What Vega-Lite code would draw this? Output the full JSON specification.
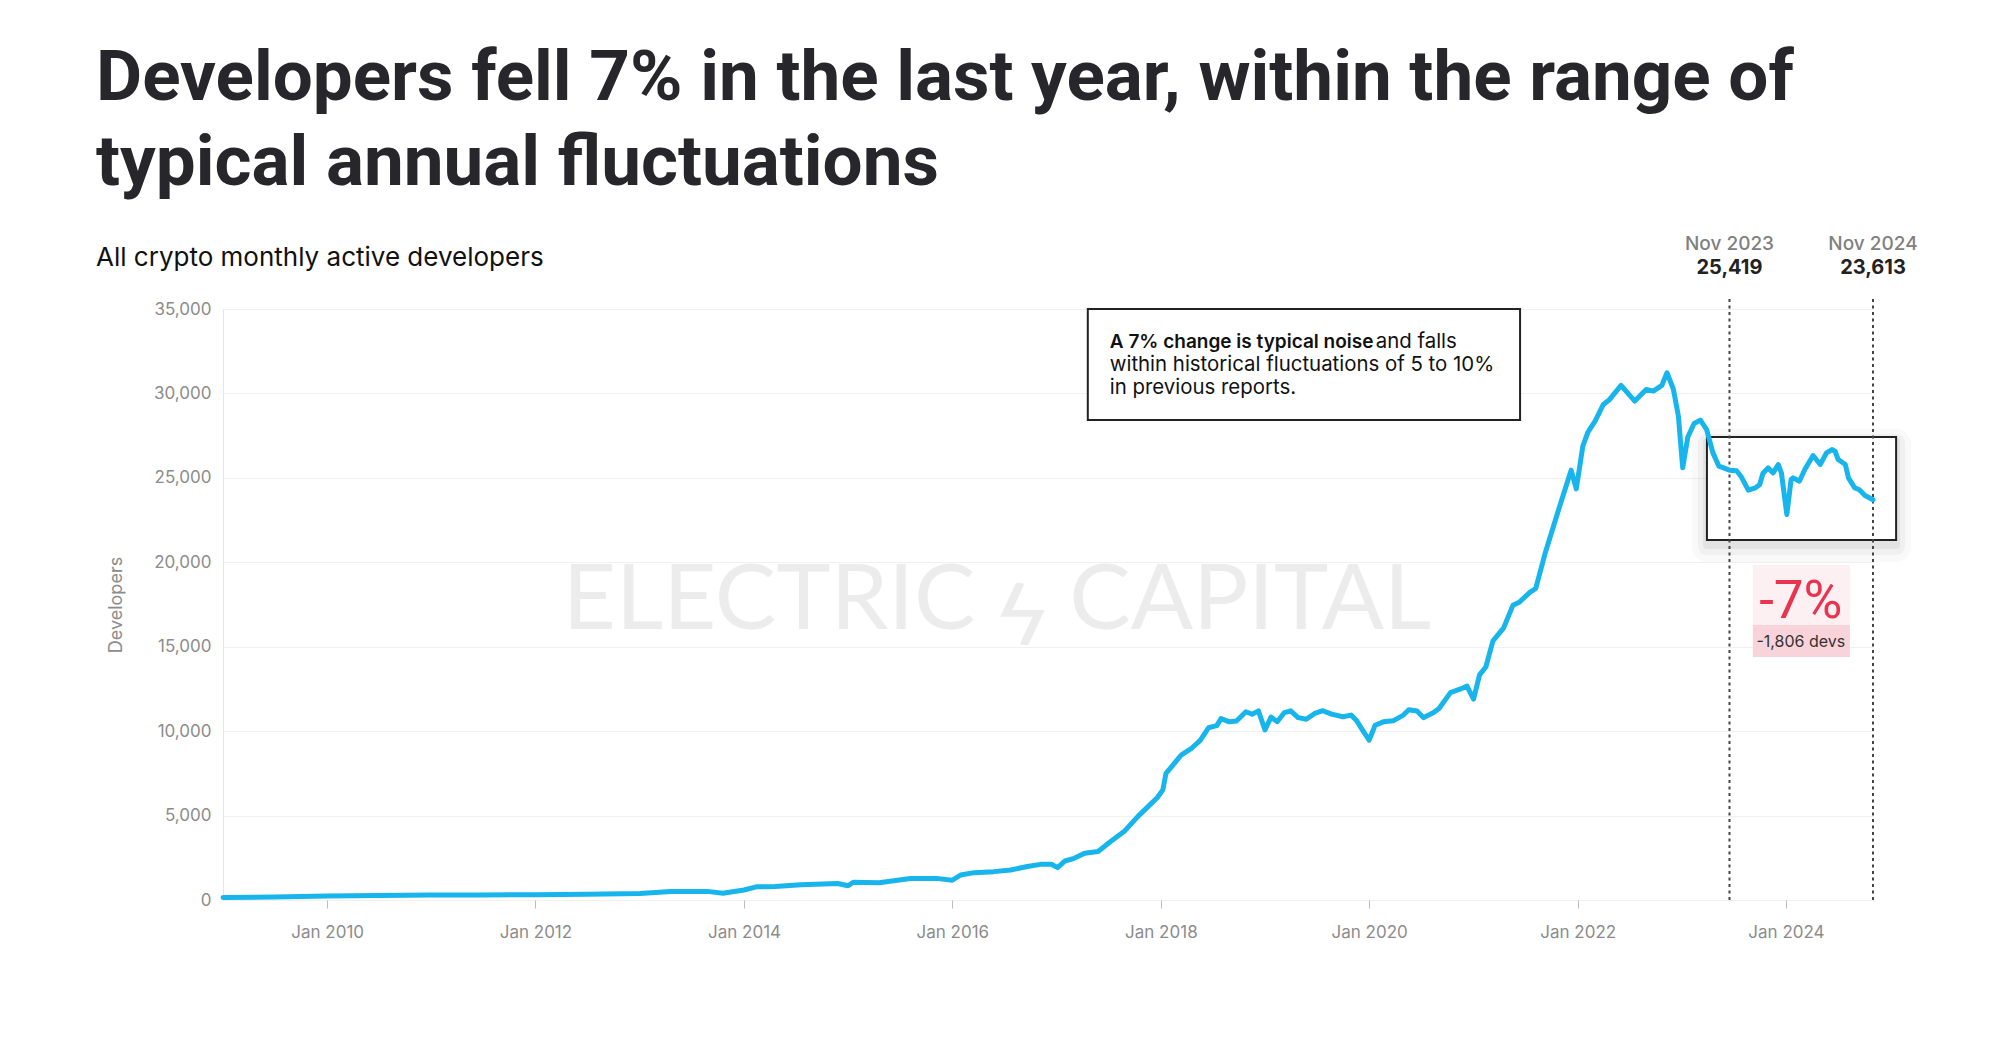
{
  "$schema": "https://vega.github.io/schema/vega-lite/v6.json",
  "width": 1650,
  "height": 591,
  "autosize": {"type": "none"},
  "padding": {"left": 223, "top": 309, "right": 127, "bottom": 143},
  "background": "white",
  "title": {
    "text": ["Developers fell 7% in the last year, within the range of", "typical annual fluctuations"],
    "subtitle": "All crypto monthly active developers",
    "anchor": "start",
    "frame": "group",
    "orient": "top",
    "dx": -127,
    "dy": 37,
    "offset": 0,
    "font": "Roboto",
    "fontSize": 71,
    "fontWeight": 700,
    "color": "#26262b",
    "lineHeight": 85,
    "subtitleFont": "Inter",
    "subtitleFontSize": 26,
    "subtitleFontWeight": 400,
    "subtitleColor": "#111111",
    "subtitlePadding": 45
  },
  "config": {
    "view": {"stroke": null},
    "axisX": {"labelFont": "Inter", "labelFontSize": 17, "labelColor": "#8c8c8c", "labelPadding": 16, "tickColor": "#bdbdbd", "tickSize": 8, "domain": false, "grid": false, "labelFlush": false},
    "axisY": {"labelFont": "Inter", "labelFontSize": 17, "labelColor": "#8c8c8c", "labelPadding": 12, "ticks": false, "domain": true, "domainColor": "#e6e6e6", "grid": true, "gridColor": "#f0f0f0", "titleFont": "Inter", "titleFontSize": 18, "titleFontWeight": 400, "titleColor": "#8c8c8c", "titlePadding": 28}
  },
  "layer": [
    {
      "data": {"values": [{"date": "2016-06-06", "y": 17700, "text": "ELECTRIC ϟ CAPITAL"}]},
      "mark": {"type": "text", "font": "Lato", "fontWeight": 400, "fontSize": 92, "color": "#ececec", "align": "center", "baseline": "middle"},
      "encoding": {
        "x": {"field": "date", "type": "temporal", "title": null, "scale": {"domain": [{"year": 2009, "month": 1, "date": 1}, {"year": 2024, "month": 11, "date": 1}]}},
        "y": {"field": "y", "type": "quantitative", "title": "Developers", "scale": {"domain": [0, 35000], "nice": false}},
        "text": {"field": "text"}
      }
    },
    {
      "data": {"values": [{"start": "2017-04-20", "end": "2021-06-13", "low": 28426, "high": 35000}]},
      "mark": {"type": "rect", "fill": "white", "stroke": "#222222", "strokeWidth": 2},
      "encoding": {
        "x": {"field": "start", "type": "temporal", "title": null, "scale": {"domain": [{"year": 2009, "month": 1, "date": 1}, {"year": 2024, "month": 11, "date": 1}]}},
        "x2": {"field": "end"},
        "y": {"field": "low", "type": "quantitative", "title": "Developers", "scale": {"domain": [0, 35000], "nice": false}},
        "y2": {"field": "high"}
      }
    },
    {
      "data": {"values": [{"start": "2023-03-30", "end": "2025-01-21", "low": 21319, "high": 27419}]},
      "layer": [
        {"mark": {"type": "rect", "fill": null, "stroke": "#000000", "strokeOpacity": 0.025, "strokeWidth": 30, "strokeJoin": "round", "yOffset": 7, "y2Offset": 7}},
        {"mark": {"type": "rect", "fill": null, "stroke": "#000000", "strokeOpacity": 0.035, "strokeWidth": 18, "strokeJoin": "round", "yOffset": 6, "y2Offset": 6}},
        {"mark": {"type": "rect", "fill": null, "stroke": "#000000", "strokeOpacity": 0.05, "strokeWidth": 8, "strokeJoin": "round", "yOffset": 5, "y2Offset": 5}},
        {"mark": {"type": "rect", "fill": "white", "stroke": "#222222", "strokeWidth": 2}}
      ],
      "encoding": {
        "x": {"field": "start", "type": "temporal", "title": null, "scale": {"domain": [{"year": 2009, "month": 1, "date": 1}, {"year": 2024, "month": 11, "date": 1}]}},
        "x2": {"field": "end"},
        "y": {"field": "low", "type": "quantitative", "title": "Developers", "scale": {"domain": [0, 35000], "nice": false}},
        "y2": {"field": "high"}
      }
    },
    {
      "data": {"values": [
        {"start": "2023-09-07", "end": "2024-08-12", "low": 16286, "high": 19839, "part": "top"},
        {"start": "2023-09-07", "end": "2024-08-12", "low": 14390, "high": 16286, "part": "strip"}
      ]},
      "mark": {"type": "rect"},
      "encoding": {
        "x": {"field": "start", "type": "temporal", "title": null, "scale": {"domain": [{"year": 2009, "month": 1, "date": 1}, {"year": 2024, "month": 11, "date": 1}]}},
        "x2": {"field": "end"},
        "y": {"field": "low", "type": "quantitative", "title": "Developers", "scale": {"domain": [0, 35000], "nice": false}},
        "y2": {"field": "high"},
        "color": {"field": "part", "type": "nominal", "scale": {"domain": ["top", "strip"], "range": ["#fdf0f2", "#f8d3da"]}, "legend": null}
      }
    },
    {
      "data": {"values": [
        {"date": "2023-06-17", "label": "Nov 2023", "value": "25,419", "bottom": 0, "top": 35700, "labelY": 38820, "valueY": 37400},
        {"date": "2024-11-01", "label": "Nov 2024", "value": "23,613", "bottom": 0, "top": 35700, "labelY": 38820, "valueY": 37400}
      ]},
      "layer": [
        {
          "mark": {"type": "rule", "stroke": "#444444", "strokeWidth": 2, "strokeDash": [3, 3.5]},
          "encoding": {
            "y": {"field": "bottom", "type": "quantitative", "title": "Developers", "scale": {"domain": [0, 35000], "nice": false}},
            "y2": {"field": "top"}
          }
        },
        {
          "mark": {"type": "text", "font": "Inter", "fontSize": 19, "fontWeight": 500, "color": "#808080", "align": "center", "baseline": "middle"},
          "encoding": {
            "y": {"field": "labelY", "type": "quantitative", "title": "Developers", "scale": {"domain": [0, 35000], "nice": false}},
            "text": {"field": "label"}
          }
        },
        {
          "mark": {"type": "text", "font": "Inter", "fontSize": 20, "fontWeight": 700, "color": "#222222", "align": "center", "baseline": "middle"},
          "encoding": {
            "y": {"field": "valueY", "type": "quantitative", "title": "Developers", "scale": {"domain": [0, 35000], "nice": false}},
            "text": {"field": "value"}
          }
        }
      ],
      "encoding": {
        "x": {"field": "date", "type": "temporal", "title": null, "scale": {"domain": [{"year": 2009, "month": 1, "date": 1}, {"year": 2024, "month": 11, "date": 1}]}}
      }
    },
    {
      "data": {"values": [
        {"date": "2009-01-01", "developers": 150},
        {"date": "2009-07-01", "developers": 180},
        {"date": "2010-01-01", "developers": 230},
        {"date": "2010-07-01", "developers": 260},
        {"date": "2011-01-01", "developers": 290},
        {"date": "2011-07-01", "developers": 300},
        {"date": "2012-01-01", "developers": 310},
        {"date": "2012-07-01", "developers": 340},
        {"date": "2013-01-01", "developers": 380},
        {"date": "2013-04-20", "developers": 500},
        {"date": "2013-08-25", "developers": 510},
        {"date": "2013-10-19", "developers": 400},
        {"date": "2014-01-01", "developers": 590},
        {"date": "2014-02-13", "developers": 780},
        {"date": "2014-04-20", "developers": 800},
        {"date": "2014-07-20", "developers": 900},
        {"date": "2014-11-25", "developers": 975},
        {"date": "2015-01-01", "developers": 840},
        {"date": "2015-01-19", "developers": 1050},
        {"date": "2015-04-20", "developers": 1020},
        {"date": "2015-08-07", "developers": 1270},
        {"date": "2015-11-06", "developers": 1280},
        {"date": "2016-01-01", "developers": 1170},
        {"date": "2016-01-30", "developers": 1480},
        {"date": "2016-03-18", "developers": 1620},
        {"date": "2016-05-26", "developers": 1680},
        {"date": "2016-07-23", "developers": 1780},
        {"date": "2016-09-20", "developers": 1980},
        {"date": "2016-11-06", "developers": 2110},
        {"date": "2016-12-13", "developers": 2120},
        {"date": "2017-01-04", "developers": 1920},
        {"date": "2017-01-30", "developers": 2310},
        {"date": "2017-03-03", "developers": 2470},
        {"date": "2017-04-09", "developers": 2770},
        {"date": "2017-05-26", "developers": 2870},
        {"date": "2017-07-09", "developers": 3460},
        {"date": "2017-08-25", "developers": 4050},
        {"date": "2017-10-12", "developers": 4940},
        {"date": "2017-11-17", "developers": 5530},
        {"date": "2017-12-20", "developers": 6070},
        {"date": "2018-01-08", "developers": 6520},
        {"date": "2018-01-19", "developers": 7500},
        {"date": "2018-02-13", "developers": 8000},
        {"date": "2018-03-14", "developers": 8600},
        {"date": "2018-04-20", "developers": 9000},
        {"date": "2018-05-19", "developers": 9450},
        {"date": "2018-06-17", "developers": 10200},
        {"date": "2018-07-16", "developers": 10330},
        {"date": "2018-07-31", "developers": 10740},
        {"date": "2018-08-29", "developers": 10550},
        {"date": "2018-09-23", "developers": 10600},
        {"date": "2018-10-26", "developers": 11150},
        {"date": "2018-11-17", "developers": 11000},
        {"date": "2018-12-09", "developers": 11200},
        {"date": "2019-01-01", "developers": 10070},
        {"date": "2019-01-22", "developers": 10830},
        {"date": "2019-02-13", "developers": 10560},
        {"date": "2019-03-10", "developers": 11100},
        {"date": "2019-04-01", "developers": 11200},
        {"date": "2019-04-27", "developers": 10800},
        {"date": "2019-05-26", "developers": 10700},
        {"date": "2019-06-24", "developers": 11050},
        {"date": "2019-07-23", "developers": 11210},
        {"date": "2019-08-22", "developers": 11010},
        {"date": "2019-10-01", "developers": 10850},
        {"date": "2019-10-30", "developers": 10950},
        {"date": "2019-11-17", "developers": 10650},
        {"date": "2019-12-09", "developers": 10060},
        {"date": "2020-01-01", "developers": 9466},
        {"date": "2020-01-22", "developers": 10350},
        {"date": "2020-02-20", "developers": 10550},
        {"date": "2020-03-25", "developers": 10610},
        {"date": "2020-04-30", "developers": 10950},
        {"date": "2020-05-19", "developers": 11270},
        {"date": "2020-06-17", "developers": 11190},
        {"date": "2020-07-09", "developers": 10800},
        {"date": "2020-08-14", "developers": 11100},
        {"date": "2020-09-02", "developers": 11340},
        {"date": "2020-10-12", "developers": 12280},
        {"date": "2020-11-17", "developers": 12500},
        {"date": "2020-12-09", "developers": 12670},
        {"date": "2021-01-01", "developers": 11900},
        {"date": "2021-01-22", "developers": 13330},
        {"date": "2021-02-13", "developers": 13800},
        {"date": "2021-03-10", "developers": 15350},
        {"date": "2021-04-16", "developers": 16100},
        {"date": "2021-05-19", "developers": 17450},
        {"date": "2021-06-10", "developers": 17630},
        {"date": "2021-07-16", "developers": 18200},
        {"date": "2021-08-07", "developers": 18450},
        {"date": "2021-09-10", "developers": 20600},
        {"date": "2021-10-19", "developers": 22729},
        {"date": "2021-11-10", "developers": 23914},
        {"date": "2021-12-09", "developers": 25455},
        {"date": "2021-12-27", "developers": 24349},
        {"date": "2022-01-19", "developers": 26878},
        {"date": "2022-02-06", "developers": 27708},
        {"date": "2022-03-03", "developers": 28360},
        {"date": "2022-04-01", "developers": 29348},
        {"date": "2022-04-23", "developers": 29644},
        {"date": "2022-06-02", "developers": 30474},
        {"date": "2022-07-20", "developers": 29546},
        {"date": "2022-08-29", "developers": 30237},
        {"date": "2022-09-23", "developers": 30138},
        {"date": "2022-10-23", "developers": 30474},
        {"date": "2022-11-10", "developers": 31225},
        {"date": "2022-12-02", "developers": 30277},
        {"date": "2022-12-20", "developers": 28656},
        {"date": "2023-01-04", "developers": 25593},
        {"date": "2023-01-22", "developers": 27420},
        {"date": "2023-02-13", "developers": 28222},
        {"date": "2023-03-07", "developers": 28420},
        {"date": "2023-03-29", "developers": 27862},
        {"date": "2023-04-20", "developers": 26480},
        {"date": "2023-05-11", "developers": 25690},
        {"date": "2023-06-17", "developers": 25454},
        {"date": "2023-07-12", "developers": 25420},
        {"date": "2023-07-27", "developers": 25099},
        {"date": "2023-08-22", "developers": 24270},
        {"date": "2023-09-16", "developers": 24408},
        {"date": "2023-10-01", "developers": 24605},
        {"date": "2023-10-12", "developers": 25257},
        {"date": "2023-10-30", "developers": 25592},
        {"date": "2023-11-17", "developers": 25296},
        {"date": "2023-12-05", "developers": 25790},
        {"date": "2023-12-16", "developers": 25296},
        {"date": "2024-01-04", "developers": 22829},
        {"date": "2024-01-19", "developers": 24901},
        {"date": "2024-01-26", "developers": 25000},
        {"date": "2024-02-17", "developers": 24803},
        {"date": "2024-03-07", "developers": 25493},
        {"date": "2024-04-05", "developers": 26323},
        {"date": "2024-04-30", "developers": 25790},
        {"date": "2024-05-22", "developers": 26481},
        {"date": "2024-06-10", "developers": 26678},
        {"date": "2024-06-21", "developers": 26579},
        {"date": "2024-07-02", "developers": 26086},
        {"date": "2024-07-27", "developers": 25790},
        {"date": "2024-08-07", "developers": 25000},
        {"date": "2024-08-29", "developers": 24408},
        {"date": "2024-09-13", "developers": 24309},
        {"date": "2024-10-04", "developers": 23954},
        {"date": "2024-11-01", "developers": 23700}
      ]},
      "mark": {"type": "line", "color": "#17b5ec", "strokeWidth": 5, "strokeJoin": "round", "strokeCap": "round"},
      "encoding": {
        "x": {
          "field": "date", "type": "temporal", "title": null,
          "scale": {"domain": [{"year": 2009, "month": 1, "date": 1}, {"year": 2024, "month": 11, "date": 1}]},
          "axis": {"title": null, "tickCount": {"interval": "year", "step": 2}, "format": "%b %Y"}
        },
        "y": {
          "field": "developers", "type": "quantitative", "title": "Developers",
          "scale": {"domain": [0, 35000], "nice": false},
          "axis": {"title": "Developers", "values": [0, 5000, 10000, 15000, 20000, 25000, 30000, 35000], "format": ",d"}
        }
      }
    },
    {
      "data": {"values": [
        {"date": "2017-07-06", "y": 33045, "line": "A 7% change is typical noise", "style": "bold"},
        {"date": "2017-07-06", "y": 33045, "line": "and falls", "style": "after"},
        {"date": "2017-07-06", "y": 31683, "line": "within historical fluctuations of 5 to 10%", "style": "regular"},
        {"date": "2017-07-06", "y": 30321, "line": "in previous reports.", "style": "regular"}
      ]},
      "layer": [
        {
          "transform": [{"filter": "datum.style == 'bold'"}],
          "mark": {"type": "text", "font": "Inter", "fontSize": 19, "fontWeight": 600, "color": "#111111", "align": "left", "baseline": "middle"}
        },
        {
          "transform": [{"filter": "datum.style == 'regular'"}],
          "mark": {"type": "text", "font": "Inter", "fontSize": 20.4, "fontWeight": 400, "color": "#111111", "align": "left", "baseline": "middle"}
        },
        {
          "transform": [{"filter": "datum.style == 'after'"}],
          "mark": {"type": "text", "font": "Inter", "fontSize": 20.4, "fontWeight": 400, "color": "#111111", "align": "left", "baseline": "middle", "dx": 266}
        }
      ],
      "encoding": {
        "x": {"field": "date", "type": "temporal", "title": null, "scale": {"domain": [{"year": 2009, "month": 1, "date": 1}, {"year": 2024, "month": 11, "date": 1}]}},
        "y": {"field": "y", "type": "quantitative", "title": "Developers", "scale": {"domain": [0, 35000], "nice": false}},
        "text": {"field": "line"}
      }
    },
    {
      "data": {"values": [
        {"date": "2024-02-22", "y": 17650, "text": "-7%", "kind": "pct"},
        {"date": "2024-02-22", "y": 15279, "text": "-1,806 devs", "kind": "abs"}
      ]},
      "layer": [
        {
          "transform": [{"filter": "datum.kind == 'pct'"}],
          "mark": {"type": "text", "font": "Roboto", "fontSize": 53, "fontWeight": 400, "color": "#e8344e", "align": "center", "baseline": "middle"}
        },
        {
          "transform": [{"filter": "datum.kind == 'abs'"}],
          "mark": {"type": "text", "font": "Inter", "fontSize": 16, "fontWeight": 400, "color": "#333333", "align": "center", "baseline": "middle"}
        }
      ],
      "encoding": {
        "x": {"field": "date", "type": "temporal", "title": null, "scale": {"domain": [{"year": 2009, "month": 1, "date": 1}, {"year": 2024, "month": 11, "date": 1}]}},
        "y": {"field": "y", "type": "quantitative", "title": "Developers", "scale": {"domain": [0, 35000], "nice": false}},
        "text": {"field": "text"}
      }
    }
  ]
}
